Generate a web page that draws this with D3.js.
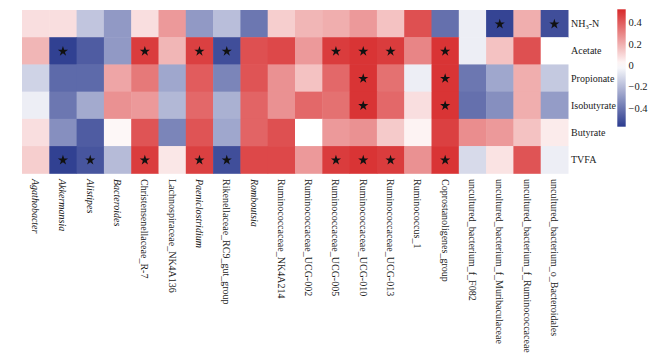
<!DOCTYPE html>
<html>
<head>
<meta charset="utf-8">
<script src="https://cdn.jsdelivr.net/npm/d3@7"></script>
<style>
  body { margin: 0; background: #fff; }
  svg { display: block; }
  text { font-family: "Liberation Serif", "Times New Roman", serif; fill: #222; }
</style>
</head>
<body>
<svg id="chart" width="661" height="360"></svg>
<script>
// ---- data ----
const genera = [
  "Agathobacter", "Akkermansia", "Alistipes", "Bacteroides",
  "Christensenellaceae_R-7", "Lachnospiraceae_NK4A136", "Paeniclostridium",
  "Rikenellaceae_RC9_gut_group", "Romboutsia", "Ruminococcaceae_NK4A214",
  "Ruminococcaceae_UCG-002", "Ruminococcaceae_UCG-005", "Ruminococcaceae_UCG-010",
  "Ruminococcaceae_UCG-013", "Ruminococcus_1", "Coprostanoligenes_group",
  "uncultured_bacterium_f_F082", "uncultured_bacterium_f_Muribaculaceae",
  "uncultured_bacterium_f_Ruminococcaceae", "uncultured_bacterium_o_Bacteroidales"
];
const italicGenera = ["Agathobacter", "Akkermansia", "Alistipes", "Bacteroides", "Paeniclostridium", "Romboutsia"];
const variables = ["NH3-N", "Acetate", "Propionate", "Isobutyrate", "Butyrate", "TVFA"];

const nh3N       = [0.08, 0.08, -0.17, -0.30, 0.08, 0.25, -0.30, -0.19, -0.40, 0.12, 0.18, 0.20, 0.25, 0.15, 0.43, -0.42, -0.05, -0.55, 0.20, -0.52];
const acetate    = [0.18, -0.56, -0.48, -0.30, 0.48, 0.18, 0.47, -0.52, 0.43, 0.45, 0.25, 0.48, 0.50, 0.48, 0.30, 0.50, -0.05, 0.15, 0.43, 0.00];
const propionate = [-0.13, -0.44, -0.44, 0.22, 0.33, -0.26, 0.40, -0.36, 0.42, 0.27, 0.15, 0.37, 0.50, 0.35, -0.05, 0.50, -0.40, -0.26, 0.20, -0.16];
const isobutyrate= [-0.05, -0.40, -0.25, 0.27, 0.25, -0.21, 0.37, -0.23, 0.38, 0.27, 0.37, 0.35, 0.50, 0.37, 0.08, 0.50, -0.42, -0.33, 0.20, -0.29];
const butyrate   = [0.08, -0.33, -0.48, 0.02, 0.42, -0.36, 0.42, -0.26, 0.38, 0.43, 0.00, 0.25, 0.27, 0.13, 0.03, 0.47, 0.28, 0.25, 0.15, 0.05];
const tvfa       = [0.12, -0.56, -0.50, -0.20, 0.48, 0.06, 0.47, -0.52, 0.45, 0.45, 0.25, 0.48, 0.50, 0.48, 0.27, 0.50, -0.11, 0.07, 0.42, -0.05];

// significance stars: column indices per variable
const starsNH3 = [17, 19];
const starsAcetate = [1, 4, 6, 7, 11, 12, 13, 15];
const starsPropionate = [12, 15];
const starsIsobutyrate = [12, 15];
const starsButyrate = [];
const starsTVFA = [1, 2, 4, 6, 7, 11, 12, 13, 15];

const legendTicks = [0.4, 0.2, 0, -0.2, -0.4];
const colorDomain = [-0.577, 0, 0.526];

const rowsValues = [nh3N, acetate, propionate, isobutyrate, butyrate, tvfa];
const rowsStars = [starsNH3, starsAcetate, starsPropionate, starsIsobutyrate, starsButyrate, starsTVFA];

const cells = [];
variables.forEach((v, i) => {
  rowsValues[i].forEach((val, j) => {
    cells.push({ variable: v, genus: genera[j], value: val, star: rowsStars[i].includes(j) });
  });
});

// ---- drawing ----
const svg = d3.select("#chart");
const x = d3.scaleBand().domain(genera).range([22, 568]);
const y = d3.scaleBand().domain(variables).range([10, 173.3]);
const color = d3.scaleLinear().domain(colorDomain)
  .range(["#2b3b8f", "#ffffff", "#d7292a"]).interpolate(d3.interpolateRgb).clamp(true);

svg.append("g").selectAll("rect").data(cells).join("rect")
  .attr("x", d => x(d.genus))
  .attr("y", d => y(d.variable))
  .attr("width", x.bandwidth() + 0.5)
  .attr("height", y.bandwidth() + 0.5)
  .attr("fill", d => color(d.value));

const star = d3.symbol().type(d3.symbolStar).size(32);
svg.append("g").selectAll("path").data(cells.filter(d => d.star)).join("path")
  .attr("d", star)
  .attr("transform", d => `translate(${x(d.genus) + x.bandwidth() / 2},${y(d.variable) + y.bandwidth() / 2 + 0.5})`)
  .attr("fill", "#111");

// row labels
const rowLab = svg.append("g").selectAll("text").data(variables).join("text")
  .attr("x", 571)
  .attr("y", d => y(d) + y.bandwidth() / 2)
  .attr("dy", "0.35em")
  .attr("font-size", 10);
rowLab.each(function (d) {
  const t = d3.select(this);
  if (d === "NH3-N") {
    t.append("tspan").text("NH");
    t.append("tspan").text("3").attr("font-size", 6.5).attr("dy", 2);
    t.append("tspan").text("-N").attr("dy", -2);
  } else {
    t.text(d);
  }
});

// column labels (rotated, reading top to bottom)
svg.append("g").selectAll("text").data(genera).join("text")
  .attr("transform", d => `translate(${x(d) + x.bandwidth() / 2},179) rotate(90)`)
  .attr("dy", "0.35em")
  .attr("font-size", 10)
  .attr("font-style", d => italicGenera.includes(d) ? "italic" : "normal")
  .text(d => d);

// legend colour bar
const defs = svg.append("defs");
const grad = defs.append("linearGradient").attr("id", "lg")
  .attr("x1", 0).attr("y1", 1).attr("x2", 0).attr("y2", 0);
const lgScale = d3.scaleLinear().domain([colorDomain[0], colorDomain[2]]).range([0, 1]);
d3.range(0, 21).forEach(k => {
  const v = colorDomain[0] + (colorDomain[2] - colorDomain[0]) * k / 20;
  grad.append("stop").attr("offset", lgScale(v)).attr("stop-color", color(v));
});
const ly = d3.scaleLinear().domain([colorDomain[0], colorDomain[2]]).range([126.7, 9.3]);
svg.append("rect")
  .attr("x", 617.3).attr("y", ly(colorDomain[2]))
  .attr("width", 8.4).attr("height", ly(colorDomain[0]) - ly(colorDomain[2]))
  .attr("fill", "url(#lg)");
svg.append("g").selectAll("text").data(legendTicks).join("text")
  .attr("x", 628.5)
  .attr("y", d => ly(d))
  .attr("dy", "0.35em")
  .attr("font-size", 10.5)
  .text(d => d3.format(".1f")(d).replace("-", "\u2212").replace(/^0\.0$/, "0").replace(/^\u22120\.0$/, "0"));
</script>
</body>
</html>
